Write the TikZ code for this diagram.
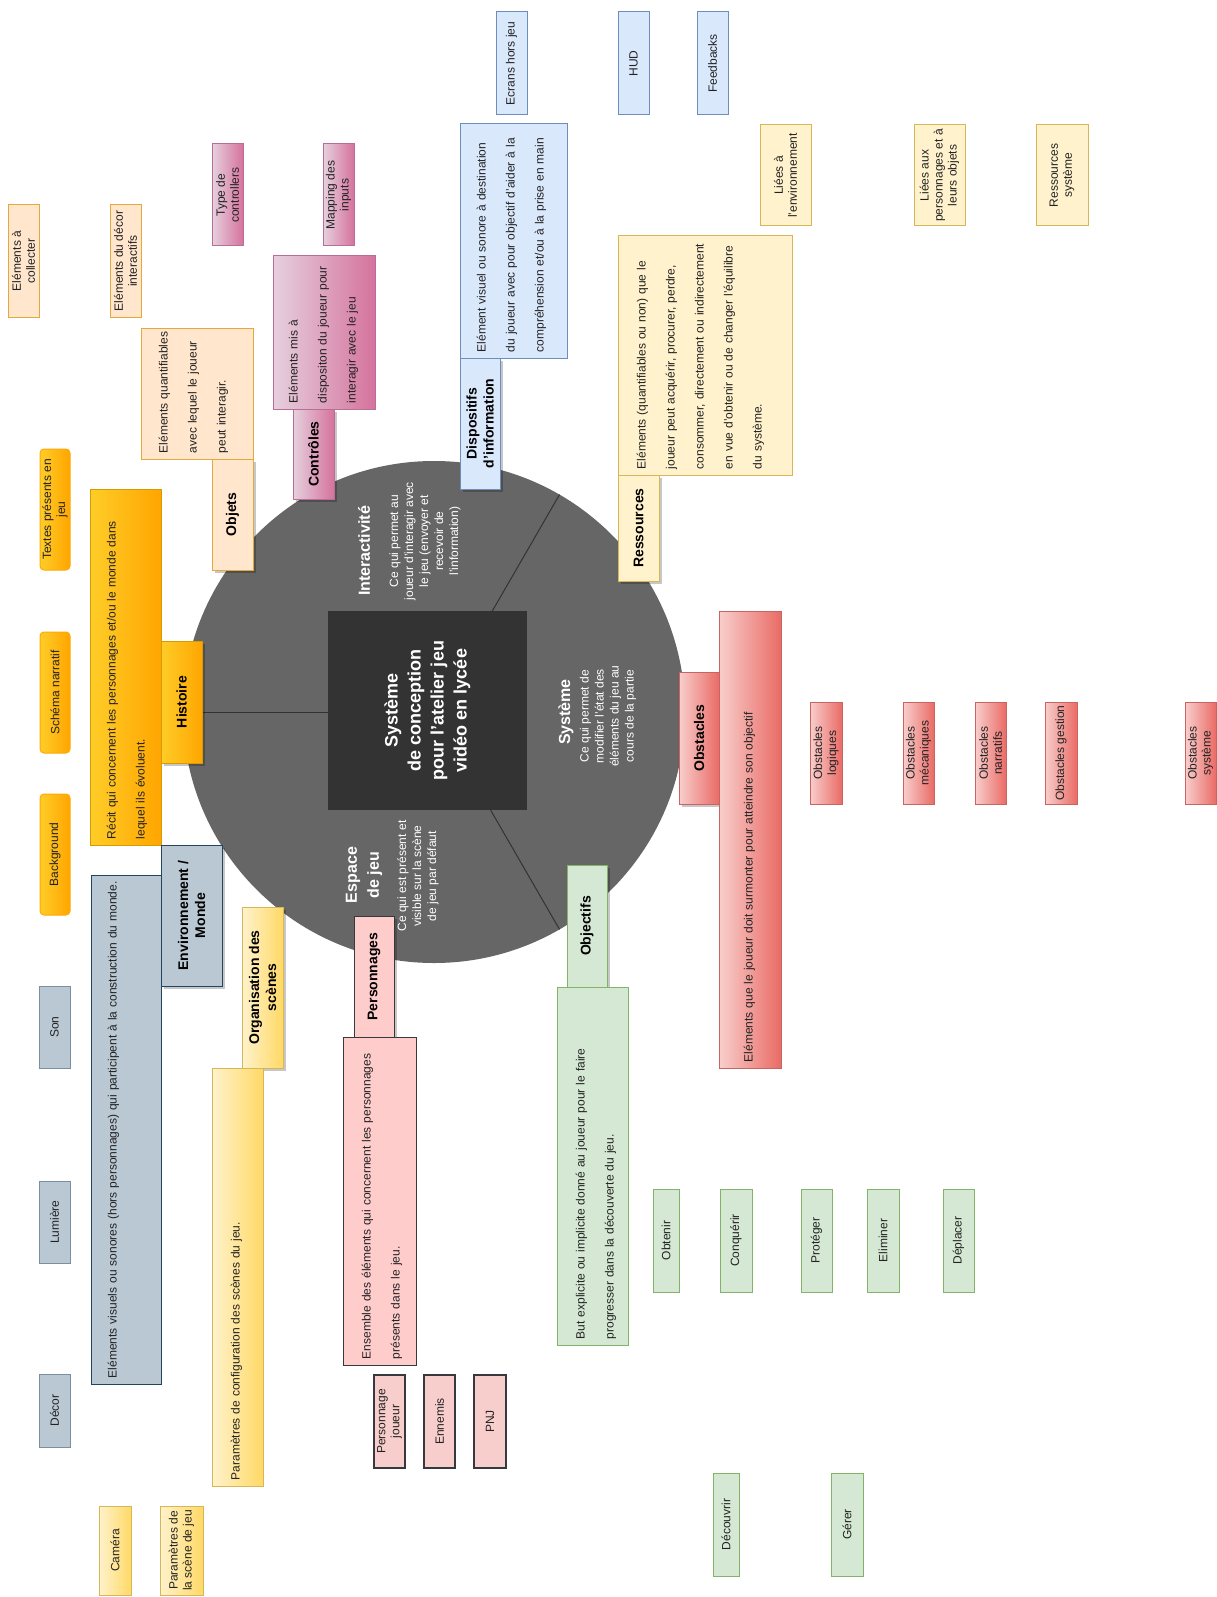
\documentclass[tikz,border=0pt]{standalone}
\usepackage{fontspec}
\setmainfont{Liberation Sans}
\usetikzlibrary{calc}
\definecolor{objF}{HTML}{FFE6CC}\definecolor{objS}{HTML}{E5A83A}
\definecolor{ctlL}{HTML}{E6D0DE}\definecolor{ctlR}{HTML}{D5739D}\definecolor{ctlS}{HTML}{B86E96}
\definecolor{bluF}{HTML}{DAE8FC}\definecolor{bluS}{HTML}{6C8EBF}
\definecolor{yelF}{HTML}{FFF2CC}\definecolor{yelS}{HTML}{D6B656}\definecolor{orgR}{HTML}{FFD966}
\definecolor{redL}{HTML}{F8CECC}\definecolor{redR}{HTML}{EA6B66}\definecolor{redS}{HTML}{C86462}
\definecolor{grnF}{HTML}{D5E8D4}\definecolor{grnS}{HTML}{82B366}
\definecolor{prsF}{HTML}{FFCCCC}\definecolor{prcF}{HTML}{F8CECC}\definecolor{prsS}{HTML}{36393D}
\definecolor{envF}{HTML}{BAC8D3}\definecolor{envS}{HTML}{23445D}
\definecolor{hisL}{HTML}{FFCD28}\definecolor{hisR}{HTML}{FFA500}\definecolor{hisS}{HTML}{D79B00}
\definecolor{pieF}{HTML}{666666}\definecolor{coreF}{HTML}{333333}\definecolor{txt}{HTML}{222222}
\newcommand\fsm{\fontsize{12}{14}\selectfont}
\newcommand\fds{\fontsize{12}{29}\selectfont}
\newcommand\fhd{\fontsize{14}{17}\selectfont\bfseries}
\newcommand\bx[6]{%
  \pgfmathsetmacro\bxw{#4-#2}\pgfmathsetmacro\bxh{#5-#3}%
  \pgfmathsetmacro\bxt{#5-#3-4}%
  \pgfmathsetmacro\bxcx{(#2+#4)/2}\pgfmathsetmacro\bxcy{(#3+#5)/2}%
  \node[#6, minimum width=\bxw pt, minimum height=\bxh pt] (#1) at (\bxcx,\bxcy) {};}
\newcommand\shd[4]{\fill[black,opacity=.22] ({#1+3},{#2+3}) rectangle ({#3+3},{#4+3});}
\newcommand\lb[2]{\node[rotate=90, align=center, font=\fsm, text=txt] (#1-t) at (#1.center) {#2};}
\newcommand\hd[2]{\node[rotate=90, align=center, font=\fhd] (#1-t) at (#1.center) {#2};}
\newcommand\ds[3]{\node[rotate=90, anchor=base west, inner sep=0pt, align=left, text width=\bxt pt, font=\fds, text=txt] (#1-t) at ($(#1.south west)+(#2+3,-6)$) {#3};}
\tikzset{
  bb/.style={draw, line width=1pt, inner sep=0pt},
  bObj/.style={bb, draw=objS, fill=objF},
  bCtl/.style={bb, draw=ctlS, left color=ctlL, right color=ctlR},
  bBlu/.style={bb, draw=bluS, fill=bluF},
  bYel/.style={bb, draw=yelS, fill=yelF},
  bRed/.style={bb, draw=redS, left color=redL, right color=redR},
  bGrn/.style={bb, draw=grnS, fill=grnF},
  bPrs/.style={bb, draw=prsS, fill=prsF},
  bPrc/.style={bb, draw=prsS, fill=prcF, line width=1.6pt},
  bEnv/.style={bb, draw=envS, fill=envF},
  bEnc/.style={bb, draw=envS!60, fill=envF},
  bHis/.style={bb, draw=hisS, left color=hisL, right color=hisR},
  bHic/.style={bb, draw=hisR!90!hisL, left color=hisL, right color=hisR, rounded corners=4pt},
  bOrg/.style={bb, draw=yelS, left color=yelF, right color=orgR},
  divline/.style={draw=coreF, line width=1pt},
  sectitle/.style={rotate=90, align=center, text=white, font=\fontsize{16}{22}\selectfont\bfseries},
  secdesc/.style={rotate=90, align=center, text=white, font=\fontsize{12}{15}\selectfont},
}
\begin{document}
\begin{tikzpicture}[x=1pt,y=-1pt]
\useasboundingbox (0,0) rectangle (1216,1597);
\fill[white] (0,0) rectangle (1216,1597);
% ---- pie
\coordinate (pc) at (434,712);
\fill[pieF] (pc) circle[radius=251];
\draw[divline] (pc) -- ++(-251,0);
\draw[divline] (pc) -- ++(125.5,-217.4);
\draw[divline] (pc) -- ++(125.5,217.4);
\node[fill=coreF, minimum width=199pt, minimum height=199pt, inner sep=0pt] (core) at (427.5,710.5) {};
\node[rotate=90, align=center, text=white, font=\fontsize{18}{23}\selectfont\bfseries] (core-t) at (core.center) {Système\\de conception\\pour l'atelier jeu\\vidéo en lycée};
\node[sectitle] (s1) at (364,551) {Interactivité};
\node[secdesc] (s1d) at (425,541) {Ce qui permet au\\joueur d'interagir avec\\le jeu (envoyer et\\recevoir de\\l'information)};
\node[sectitle] (s2) at (566,712) {Système};
\node[secdesc] (s2d) at (608,716) {Ce qui permet de\\modifier l'état des\\éléments du jeu au\\cours de la partie};
\node[sectitle] (s3) at (364,875) {Espace\\de jeu};
\node[secdesc] (s3d) at (418,876) {Ce qui est présent et\\visible sur la scène\\de jeu par défaut};
% ---- shadows of headers
\shd{212}{459}{253}{570}
\shd{293}{409}{334}{499}
\shd{460}{358}{500}{489}
\shd{618}{475}{659}{581}
\shd{679}{672}{719}{804}
\shd{567}{865}{607}{987}
\shd{354}{916}{394}{1037}
\shd{161}{641}{202}{763}
\shd{161}{845}{222}{986}
\shd{242}{907}{283}{1068}
% ---- Objets
\bx{colA}{8}{205}{39}{317}{bObj}\lb{colA}{Eléments à\\collecter}
\bx{colB}{110}{205}{141}{317}{bObj}\lb{colB}{Eléments du décor\\interactifs}
\bx{objd}{141}{328}{253}{459}{bObj}\ds{objd}{24}{Eléments quantifiables\\avec lequel le joueur\\peut interagir.}
\bx{objets}{212}{459}{253}{570}{bObj}\hd{objets}{Objets}
% ---- Contrôles
\bx{ctA}{212}{144}{243}{246}{bCtl}\lb{ctA}{Type de\\controllers}
\bx{ctB}{323}{144}{354}{246}{bCtl}\lb{ctB}{Mapping des\\inputs}
\bx{ctd}{273}{256}{375}{409}{bCtl}\ds{ctd}{22}{Eléments mis à\\dispositon du joueur pour\\interagir avec le jeu}
\bx{ctrl}{293}{409}{334}{499}{bCtl}\hd{ctrl}{Contrôles}
% ---- Dispositifs d'information
\bx{inA}{496}{12}{527}{115}{bBlu}\lb{inA}{Ecrans hors jeu}
\bx{inB}{618}{12}{649}{115}{bBlu}\lb{inB}{HUD}
\bx{inC}{697}{12}{728}{115}{bBlu}\lb{inC}{Feedbacks}
\bx{ind}{460}{124}{567}{358}{bBlu}\ds{ind}{23}{Elément visuel ou sonore à destination\\du joueur avec pour objectif d'aider à la\\compréhension et/ou à la prise en main}
\bx{disp}{460}{358}{500}{489}{bBlu}\hd{disp}{Dispositifs\\d'information}
% ---- Ressources
\bx{reA}{760}{125}{811}{226}{bYel}\lb{reA}{Liées à\\l'environnement}
\bx{reB}{914}{125}{965}{226}{bYel}\lb{reB}{Liées aux\\personnages et à\\leurs objets}
\bx{reC}{1036}{125}{1088}{226}{bYel}\lb{reC}{Ressources\\système}
\bx{red}{618}{236}{792}{475}{bYel}\ds{red}{25}{Eléments (quantifiables ou non) que le\\joueur peut acquérir, procurer, perdre,\\consommer, directement ou indirectement\\en vue d'obtenir ou de changer l'équilibre\\du système.}
\bx{ress}{618}{475}{659}{581}{bYel}\hd{ress}{Ressources}
% ---- Obstacles
\bx{obd}{719}{611}{781}{1068}{bRed}\ds{obd}{31}{Eléments que le joueur doit surmonter pour atteindre son objectif}
\bx{obst}{679}{672}{719}{804}{bRed}\hd{obst}{Obstacles}
\bx{obA}{810}{702}{842}{804}{bRed}\lb{obA}{Obstacles\\logiques}
\bx{obB}{903}{702}{934}{804}{bRed}\lb{obB}{Obstacles\\mécaniques}
\bx{obC}{975}{702}{1006}{804}{bRed}\lb{obC}{Obstacles\\narratifs}
\bx{obD}{1045}{702}{1077}{804}{bRed}\lb{obD}{Obstacles gestion}
\bx{obE}{1185}{702}{1216}{804}{bRed}\lb{obE}{Obstacles\\système}
% ---- Objectifs
\bx{god}{557}{987}{628}{1345}{bGrn}\ds{god}{25}{But explicite ou implicite donné au joueur pour le faire\\progresser dans la découverte du jeu.}
\bx{goal}{567}{865}{607}{987}{bGrn}\hd{goal}{Objectifs}
\bx{goA}{653}{1189}{679}{1292}{bGrn}\lb{goA}{Obtenir}
\bx{goB}{720}{1189}{752}{1292}{bGrn}\lb{goB}{Conquérir}
\bx{goC}{801}{1189}{832}{1292}{bGrn}\lb{goC}{Protéger}
\bx{goD}{867}{1189}{899}{1292}{bGrn}\lb{goD}{Eliminer}
\bx{goE}{943}{1189}{974}{1292}{bGrn}\lb{goE}{Déplacer}
\bx{goF}{713}{1473}{739}{1576}{bGrn}\lb{goF}{Découvrir}
\bx{goG}{831}{1473}{863}{1576}{bGrn}\lb{goG}{Gérer}
% ---- Personnages
\bx{ped}{343}{1037}{416}{1365}{bPrs}\ds{ped}{25}{Ensemble des éléments qui concernent les personnages\\présents dans le jeu.}
\bx{pers}{354}{916}{394}{1037}{bPrs}\hd{pers}{Personnages}
\bx{peA}{374}{1375}{405}{1468}{bPrc}\lb{peA}{Personnage\\joueur}
\bx{peB}{424}{1375}{455}{1468}{bPrc}\lb{peB}{Ennemis}
\bx{peC}{474}{1375}{506}{1468}{bPrc}\lb{peC}{PNJ}
% ---- Histoire
\bx{hid}{90}{489}{161}{845}{bHis}\ds{hid}{23}{Récit qui concernent les personnages et/ou le monde dans\\lequel ils évoluent.}
\bx{hist}{161}{641}{202}{763}{bHis}\hd{hist}{Histoire}
\bx{hiA}{40}{449}{70}{570}{bHic}\lb{hiA}{Textes présents en\\jeu}
\bx{hiB}{40}{632}{70}{753}{bHic}\lb{hiB}{Schéma narratif}
\bx{hiC}{40}{794}{70}{915}{bHic}\lb{hiC}{Background}
% ---- Environnement
\bx{end}{91}{875}{161}{1384}{bEnv}\ds{end}{23}{Eléments visuels ou sonores (hors personnages) qui participent à la construction du monde.}
\bx{env}{161}{845}{222}{986}{bEnv}\hd{env}{Environnement /\\Monde}
\bx{enA}{39}{986}{70}{1068}{bEnc}\lb{enA}{Son}
\bx{enB}{39}{1181}{70}{1263}{bEnc}\lb{enB}{Lumière}
\bx{enC}{39}{1374}{70}{1447}{bEnc}\lb{enC}{Décor}
% ---- Organisation des scènes
\bx{ord}{212}{1068}{263}{1486}{bOrg}\ds{ord}{25}{Paramètres de configuration des scènes du jeu.}
\bx{org}{242}{907}{283}{1068}{bOrg}\hd{org}{Organisation des\\scènes}
\bx{orA}{99}{1506}{131}{1595}{bOrg}\lb{orA}{Caméra}
\bx{orB}{160}{1506}{203}{1595}{bOrg}\lb{orB}{Paramètres de\\la scène de jeu}
\end{tikzpicture}
\end{document}
